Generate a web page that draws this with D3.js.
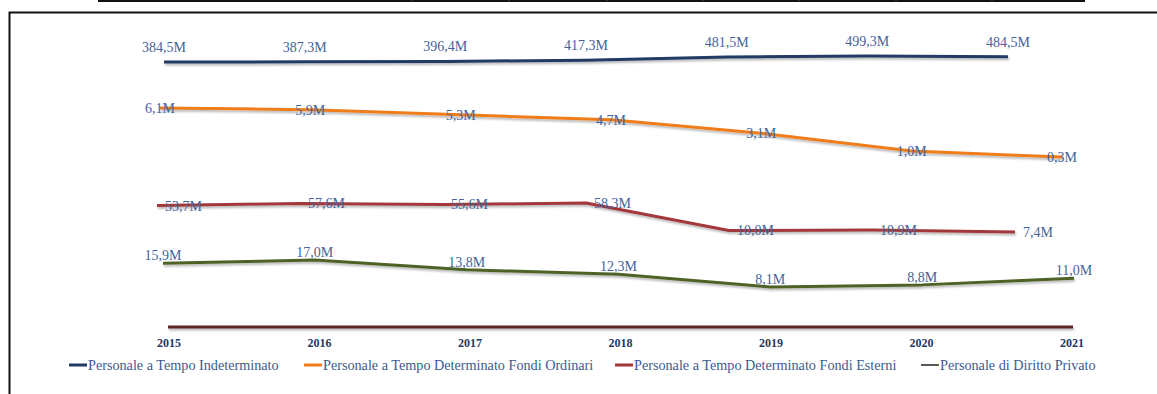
<!DOCTYPE html>
<html>
<head>
<meta charset="utf-8">
<script src="https://cdn.jsdelivr.net/npm/d3@7"></script>
<style>
  body { margin: 0; background: #fff; }
  svg { display: block; }
  text { font-family: "Liberation Serif", "DejaVu Serif", serif; }
</style>
</head>
<body>
<div id="chart-area"></div>
<script>
// years on the x axis
var years = [2015, 2016, 2017, 2018, 2019, 2020, 2021];

// values in millions
var indeterminato = [384.5, 387.3, 396.4, 417.3, 481.5, 499.3, 484.5];
var fondiOrdinari = [6.1, 5.9, 5.3, 4.7, 3.1, 1.0, 0.3];
var fondiEsterni  = [53.7, 57.6, 55.6, 58.3, 10.0, 10.9, 7.4];
var dirittoPrivato = [0, 0, 0, 0, 0, 0, 0];
var altro = [15.9, 17.0, 13.8, 12.3, 8.1, 8.8, 11.0];

var seriesNames = [
    "Personale a Tempo Indeterminato",
    "Personale a Tempo Determinato Fondi Ordinari",
    "Personale a Tempo Determinato Fondi Esterni",
    "Personale di Diritto Privato"
];

var width = 1157, height = 394;

var svg = d3.select("#chart-area").append("svg")
    .attr("width", width)
    .attr("height", height);

// soft excel-like shadow under the lines
var defs = svg.append("defs");
defs.append("filter")
    .attr("id", "shadow")
    .attr("filterUnits", "userSpaceOnUse")
    .attr("x", 0).attr("y", 0)
    .attr("width", width).attr("height", height)
    .append("feDropShadow")
    .attr("dx", 1).attr("dy", 2)
    .attr("stdDeviation", 1.2)
    .attr("flood-color", "#000")
    .attr("flood-opacity", 0.28);

// page bits around the chart (table line above, frame)
svg.append("line").attr("x1", 98).attr("x2", 1085).attr("y1", 1).attr("y2", 1)
    .attr("stroke", "#111").attr("stroke-width", 2);
[412, 509, 607, 703, 799, 896, 992].forEach(function(x) {
    svg.append("line").attr("x1", x).attr("x2", x).attr("y1", 0).attr("y2", 1)
        .attr("stroke", "#555").attr("stroke-width", 1);
});
svg.append("path")
    .attr("d", "M9.5," + height + "V12.5H" + width)
    .attr("fill", "none").attr("stroke", "#111").attr("stroke-width", 2);

// every band is its own little chart, like in the original
var labelColor = "#44639a";
var layout = [
    { values: indeterminato, color: "#203a63", x: [164, 1008], dom: [384.5, 499.3], y: [62, 56], pos: "above", dy: -15 },
    { values: fondiOrdinari, color: "#ef7d1a", x: [160, 1062], dom: [0.3, 6.1], y: [157, 108], pos: "center", dy: 0 },
    { values: fondiEsterni, color: "#a3383a", x: [157, 1015], dom: [7.4, 58.3], y: [232, 203], pos: "right", dy: 0 },
    { values: altro, color: "#4f6228", x: [163, 1074], dom: [8.1, 17.0], y: [287, 260], pos: "above", dy: -8 },
    { values: dirittoPrivato, color: "#5a2626", x: [168, 1073], dom: [0, 1], y: [327, 300], pos: "none", dy: 0 }
];

layout.forEach(function(s) {
    var x = d3.scalePoint().domain(years).range(s.x);
    var y = d3.scaleLinear().domain(s.dom).range(s.y);
    var line = d3.line()
        .x(function(d, i) { return x(years[i]); })
        .y(function(d) { return y(d); });

    svg.append("path")
        .datum(s.values)
        .attr("d", line)
        .attr("fill", "none")
        .attr("stroke", s.color)
        .attr("stroke-width", 3)
        .attr("stroke-linejoin", "round")
        .attr("filter", "url(#shadow)");

    if (s.pos == "none") return;

    svg.append("g").selectAll("text")
        .data(s.values)
        .enter().append("text")
        .attr("x", function(d, i) { return x(years[i]) + (s.pos == "right" ? 8 : 0); })
        .attr("y", function(d) { return y(d) + s.dy; })
        .attr("dy", "0.35em")
        .attr("text-anchor", s.pos == "right" ? "start" : "middle")
        .attr("font-size", 14)
        .attr("fill", labelColor)
        .text(function(d) { return d3.format(".1f")(d).replace(".", ",") + "M"; });
});

// year axis
var xAxis = d3.scalePoint().domain(years).range([169, 1072]);
svg.append("g").selectAll("text")
    .data(years)
    .enter().append("text")
    .attr("x", function(d) { return xAxis(d); })
    .attr("y", 347)
    .attr("text-anchor", "middle")
    .attr("font-size", 12)
    .attr("font-weight", "bold")
    .attr("fill", "#1f3864")
    .text(function(d) { return d; });

// legend
var legendColors = ["#203a63", "#ef7d1a", "#a3383a", "#222"];
var legendX = [69, 304, 615, 921];
var legend = svg.append("g").selectAll("g")
    .data(seriesNames)
    .enter().append("g")
    .attr("transform", function(d, i) { return "translate(" + legendX[i] + ",365)"; });
legend.append("line")
    .attr("x1", 0).attr("x2", 18)
    .attr("stroke", function(d, i) { return legendColors[i]; })
    .attr("stroke-width", function(d, i) { return i == 3 ? 1.5 : 3; });
legend.append("text")
    .attr("x", 19)
    .attr("dy", "0.35em")
    .attr("font-size", 14.2)
    .attr("fill", "#3d5a8c")
    .text(function(d) { return d; });
</script>
</body>
</html>
